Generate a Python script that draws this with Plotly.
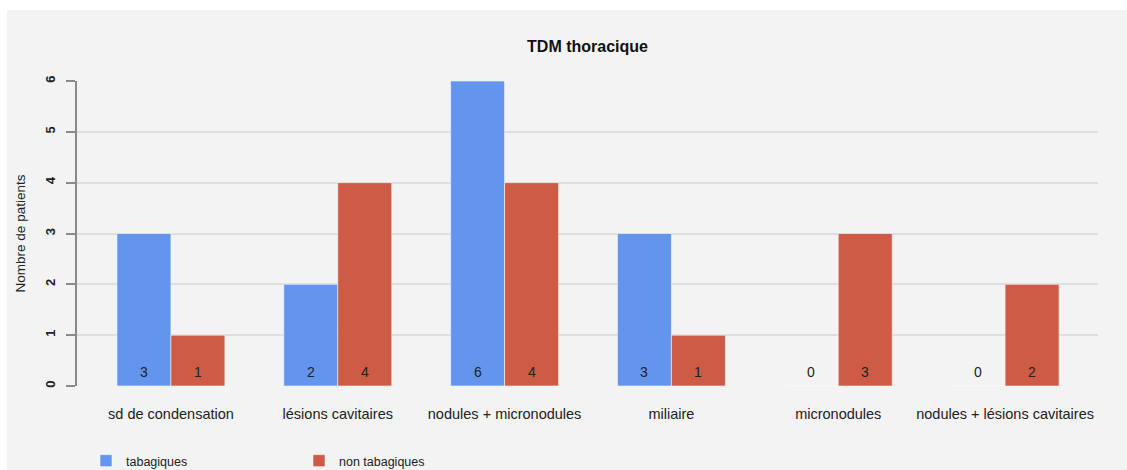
import plotly.graph_objects as go

categories = ["sd de condensation", "lésions cavitaires", "nodules + micronodules",
              "miliaire", "micronodules", "nodules + lésions cavitaires"]
tabagiques = [3, 2, 6, 3, 0, 0]
non_tabagiques = [1, 4, 4, 1, 3, 2]
series_names = ["tabagiques", "non tabagiques"]
y_ticks = [0, 1, 2, 3, 4, 5, 6]

BLUE = "#6495ed"
RED = "#cd5b45"
FONT = "Liberation Sans, Arial, sans-serif"

fig = go.Figure()
for name, vals, col in [(series_names[0], tabagiques, BLUE), (series_names[1], non_tabagiques, RED)]:
    fig.add_trace(go.Bar(
        x=categories, y=vals, name=name,
        marker=dict(color=col, line=dict(color="rgba(255,255,255,0.55)", width=1)),
        hoverinfo="x+y+name",
    ))

# value labels at the base of each bar
annotations = []
for vals, shift in [(tabagiques, -27), (non_tabagiques, 27)]:
    for c, v in zip(categories, vals):
        annotations.append(dict(
            x=c, y=0, xref="x", yref="y", text=str(v), showarrow=False,
            xshift=shift, yshift=4, yanchor="bottom",
            font=dict(family=FONT, size=14, color="#222222"),
        ))

fig.update_layout(
    width=1127, height=470,
    margin=dict(l=77, r=29, t=81, b=84),
    paper_bgcolor="white",
    plot_bgcolor="#f3f3f3",
    barmode="group", bargap=0.353, bargroupgap=0,
    font=dict(family=FONT, size=13, color="#222222"),
    title=dict(text="<b>TDM thoracique</b>", x=0.5, xref="paper", xanchor="center",
               y=1 - 46 / 470, yanchor="middle", font=dict(family=FONT, size=16, color="#111111")),
    annotations=annotations,
    shapes=[dict(type="rect", xref="paper", yref="paper",
                 x0=(7 - 77) / 1021, x1=(1140 - 77) / 1021,
                 y0=(386 - 480) / 305, y1=(386 - 10) / 305,
                 fillcolor="#f3f3f3", line=dict(width=0), layer="below")],
    showlegend=True,
    legend=dict(orientation="h", xref="container", yref="container",
                x=86 / 1127, xanchor="left", y=1 - 461 / 470, yanchor="middle",
                entrywidth=168, entrywidthmode="pixels", bgcolor="rgba(0,0,0,0)",
                font=dict(family=FONT, size=12.5, color="#222222")),
)

fig.update_xaxes(
    range=[-0.563, 5.557], showgrid=False, zeroline=False, showline=False,
    ticks="", ticklabelstandoff=17, tickfont=dict(family=FONT, size=14.5, color="#222222"),
)
fig.update_yaxes(
    range=[0, 6], tickvals=y_ticks, tickangle=-90,
    showgrid=True, gridcolor="#dedede", gridwidth=1.5,
    zeroline=False, showline=True, linecolor="#8a8a8a", linewidth=1.5,
    ticks="outside", ticklen=9, tickcolor="#8a8a8a", tickwidth=1.5,
    ticklabelstandoff=6, tickfont=dict(family=FONT, size=13, color="#222222", weight="bold"),
    title=dict(text="Nombre de patients", standoff=14, font=dict(family=FONT, size=13.5, color="#222222")),
)

fig.write_html("out.html", config={"displayModeBar": False},
               post_script="document.body.style.margin='0';")
